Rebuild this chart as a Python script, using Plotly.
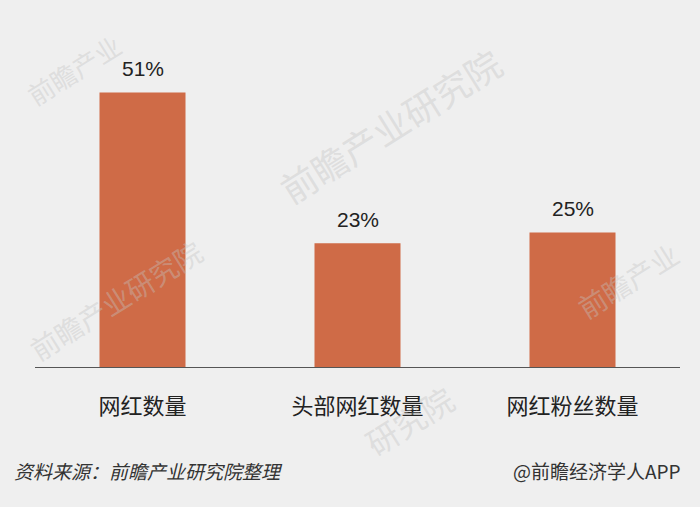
import plotly.graph_objects as go

categories = ["网红数量", "头部网红数量", "网红粉丝数量"]
values = [51, 23, 25]
value_labels = ["51%", "23%", "25%"]

bar_color = "#CF6B47"
bg = "#EFEFEF"

fig = go.Figure()
fig.add_trace(go.Bar(
    x=categories, y=values,
    marker=dict(color=bar_color, line=dict(width=0)),
    hoverinfo="skip",
))

annotations = []
# faint watermarks
watermarks = [
    (0.06, 0.92, "前瞻产业", 26),
    (0.55, 0.749, "前瞻产业研究院", 36),
    (0.125, 0.207, "前瞻产业研究院", 28),
    (0.58, -0.164, "研究院", 32),
    (0.92, 0.269, "前瞻产业", 28),
]
for x, y, t, s in watermarks:
    annotations.append(dict(
        x=x, y=y, xref="paper", yref="paper", text=t, showarrow=False,
        xanchor="center", yanchor="middle", textangle=-32,
        font=dict(family="Noto Sans CJK SC", size=s, color="rgba(195,195,195,0.4)"),
    ))

# value labels above bars
for c, v, t in zip(categories, values, value_labels):
    annotations.append(dict(
        x=c, y=v, xref="x", yref="y", text=t, showarrow=False,
        yanchor="bottom", yshift=10,
        font=dict(family="Liberation Sans, Arial", size=21, color="#222222"),
    ))

annotations.append(dict(
    x=-0.036, y=-0.319, xref="paper", yref="paper", xanchor="left", yanchor="middle",
    text="<i>资料来源：前瞻产业研究院整理</i>", showarrow=False,
    font=dict(family="Noto Sans CJK SC", size=19, color="#333333"),
))
annotations.append(dict(
    x=1.005, y=-0.319, xref="paper", yref="paper", xanchor="right", yanchor="middle",
    text="@前瞻经济学人APP", showarrow=False,
    font=dict(family="Noto Sans CJK SC", size=19, color="#333333"),
))

fig.update_layout(
    width=700, height=507,
    paper_bgcolor=bg, plot_bgcolor=bg,
    margin=dict(l=35, r=20, t=44, b=140),
    bargap=0.6,
    showlegend=False,
    annotations=annotations,
    xaxis=dict(
        showgrid=False, showline=True, linecolor="#555555", linewidth=1,
        ticks="", tickfont=dict(family="Noto Sans CJK SC", size=22, color="#222222"),
        ticklabelstandoff=20, fixedrange=True,
    ),
    yaxis=dict(range=[0, 60], visible=False, showgrid=False, fixedrange=True),
)

fig.write_html("out.html", config={"displayModeBar": False},
               post_script="document.body.style.margin='0';document.body.style.background='#EFEFEF';")
